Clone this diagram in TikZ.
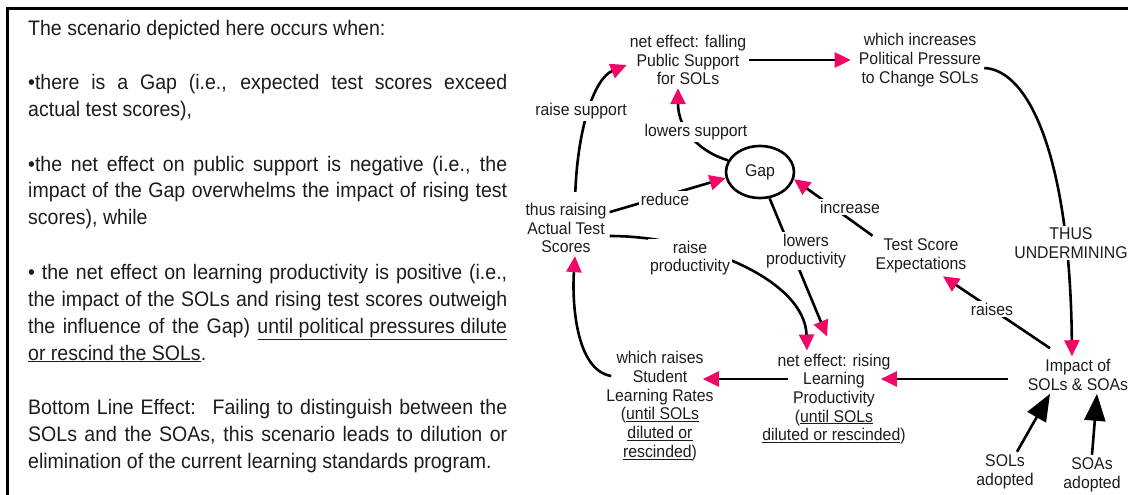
\documentclass[tikz,border=0pt]{standalone}
\usepackage{fontspec}
\setmainfont[FakeStretch=0.93]{Liberation Sans}
\usetikzlibrary{arrows.meta,shapes.geometric,calc}
\definecolor{tippink}{RGB}{240,8,102}
\definecolor{inkc}{RGB}{28,28,28}

\tikzset{
  lbl/.style={font=\fontsize{17}{18.7}\selectfont, align=center, inner sep=3pt, text=inkc},
  elbl/.style={lbl, fill=white, inner sep=2pt},
  link/.style={line width=2.6pt, draw=black, -{Triangle[length=16pt,width=15pt,color=tippink]}},
  bigarrow/.style={line width=2.6pt, draw=black, -{Triangle[length=27pt,width=21pt]}},
  para/.style={font=\fontsize{21}{27}\selectfont, text width=479pt, align=justify,
               inner sep=0pt, anchor=base west, text=inkc},
  gapnode/.style={draw, ellipse, line width=2.6pt, minimum width=68pt, minimum height=52pt,
                  inner sep=0pt, font=\fontsize{17}{18.7}\selectfont, text=inkc},
}

\begin{document}
\begin{tikzpicture}[x=1pt, y=-1pt]
\useasboundingbox (0,0) rectangle (1128,495);

% frame: top rule and left rule
\draw[line width=2.8pt] (7.5,495) -- (7.5,8.5) -- (1128,8.5);

% explanatory text
\node[para] (p1) at (28,36) {The scenario depicted here occurs when:};
\node[para] (p2) at (28,90) {\textbullet there is a Gap (i.e., expected test scores exceed\linebreak actual test scores),};
\node[para] (p3) at (28,171) {\textbullet the net effect on public support is negative (i.e., the\linebreak impact of the Gap overwhelms the impact of rising test\linebreak scores), while};
\node[para] (p4) at (28,279) {\textbullet{} the net effect on learning productivity is positive (i.e.,\linebreak the impact of the SOLs and rising test scores outweigh\linebreak the influence of the Gap) \underline{until political pressures dilute}\linebreak \underline{or rescind the SOLs}.};
\node[para] (p5) at (28,414) {Bottom Line Effect:~ Failing to distinguish between the\linebreak SOLs and the SOAs, this scenario leads to dilution or\linebreak elimination of the current learning standards program.};

% causal loop nodes
\node[lbl] (A) at (688,60) {net effect: falling\\Public Support\\for SOLs};
\node[lbl] (B) at (920,60) {which increases\\Political Pressure\\to Change SOLs};
\node[gapnode] (Gap) at (760,172) {Gap};
\node[lbl] (C) at (566,228) {thus raising\\Actual Test\\Scores};
\node[lbl] (D) at (921,256) {Test Score\\Expectations};
\node[lbl] (F) at (1078,375) {Impact of\\SOLs \& SOAs};
\node[lbl] (G) at (834,399) {net effect: rising\\Learning\\Productivity\\(\underline{until SOLs}\\\underline{diluted or rescinded})};
\node[lbl] (H) at (660,406) {which raises\\Student\\Learning Rates\\(\underline{until SOLs}\\\underline{diluted or}\\\underline{rescinded})};
\node[lbl] (I) at (1005,472) {SOLs\\adopted};
\node[lbl] (J) at (1092,475) {SOAs\\adopted};

% links
\draw[link, shorten <=8pt] ([xshift=9pt]C.north) .. controls (578,125) and (595,78) .. ([yshift=-5pt]A.west);
\draw[link] (Gap.160) .. controls (700,152) and (678,130) .. ([xshift=-10pt]A.south);
\draw[link, shorten >=5pt] (A.east) -- (B.west);
\draw[link] ([yshift=-8pt]B.east) .. controls (1030,70) and (1070,160) .. ([xshift=-6pt]F.north);
\draw[link] (C.20) -- (Gap.190);
\draw[link] (D.north west) -- (Gap.-12);
\draw[link] ([yshift=-8pt]C.east) .. controls (700,236) and (805,280) .. ([xshift=-27pt]G.north);
\draw[link] (Gap.-70) -- ([xshift=-7pt,yshift=14pt]G.north);
\draw[link] ([xshift=29pt,yshift=20pt]G.west) -- ([xshift=-14pt,yshift=27pt]H.east);
\draw[link] ([xshift=-17pt,yshift=-4pt]F.west) -- ([xshift=-28pt,yshift=20pt]G.east);
\draw[link] ([xshift=-28pt,yshift=8pt]F.north) -- ([xshift=22pt]D.south);
\draw[link] ([xshift=8pt,yshift=30pt]H.west) .. controls (575,370) and (572,300) .. ([xshift=9pt]C.south);
\draw[bigarrow] ([xshift=12pt]I.north) -- ([xshift=-28pt]F.south);
\draw[bigarrow] (J.north) -- ([xshift=19pt]F.south);

% link labels
\node[elbl] (l1) at (581,111) {raise support};
\node[elbl] (l2) at (696,132) {lowers support};
\node[elbl] (l3) at (665,199) {reduce};
\node[elbl] (l4) at (850,207) {increase};
\node[elbl] (l5) at (690,258) {raise\\productivity};
\node[elbl] (l6) at (806,251) {lowers\\productivity};
\node[elbl] (l7) at (992,309) {raises};
\node[elbl] (l8) at (1071,243) {THUS\\UNDERMINING};
\end{tikzpicture}
\end{document}
